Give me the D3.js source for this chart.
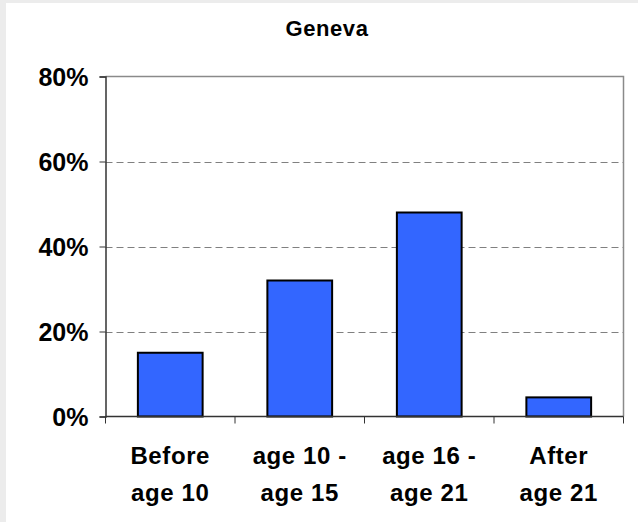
<!DOCTYPE html>
<html>
<head>
<meta charset="utf-8">
<script src="https://cdn.jsdelivr.net/npm/d3@7"></script>
<style>
  html, body { margin: 0; padding: 0; background: #ececec; }
  svg { display: block; }
  text { font-family: "Liberation Sans", Arial, sans-serif; font-weight: bold; fill: #000; }
</style>
</head>
<body>
<script>
const title = "Geneva";
const categories = ["Before\nage 10", "age 10 -\nage 15", "age 16 -\nage 21", "After\nage 21"];
const values = [0.15, 0.32, 0.48, 0.045];
const yTicks = [0, 0.2, 0.4, 0.6, 0.8];

const W = 638, H = 522;
const svg = d3.select("body").append("svg").attr("width", W).attr("height", H);

// white chart area
svg.append("rect").attr("x", 6).attr("y", 3).attr("width", W - 6).attr("height", H - 3).attr("fill", "#ffffff");

const plot = { left: 105.5, right: 623.5, top: 76.5, bottom: 416.5 };

const x = d3.scaleBand().domain(categories).range([plot.left, plot.right]).paddingInner(0.5).paddingOuter(0.25);
const y = d3.scaleLinear().domain([0, 0.8]).range([plot.bottom, plot.top]);

// gridlines
svg.append("g").selectAll("line").data(yTicks.filter(d => d > 0 && d < 0.8)).join("line")
  .attr("x1", plot.left).attr("x2", plot.right)
  .attr("y1", d => Math.round(y(d)) + 0.5).attr("y2", d => Math.round(y(d)) + 0.5)
  .attr("stroke", "#808080").attr("stroke-width", 1).attr("stroke-dasharray", "7,4");

// top and right border
svg.append("path")
  .attr("d", `M${plot.left},${plot.top}H${plot.right}V${plot.bottom}`)
  .attr("fill", "none").attr("stroke", "#8a8a8a").attr("stroke-width", 1.5);

// bars
svg.append("g").selectAll("rect").data(categories).join("rect")
  .attr("x", d => x(d))
  .attr("width", x.bandwidth())
  .attr("y", (d, i) => y(values[i]))
  .attr("height", (d, i) => y(0) - y(values[i]))
  .attr("fill", "#3366ff").attr("stroke", "#000").attr("stroke-width", 2);

// y axis
const yAxis = svg.append("g").attr("transform", `translate(${plot.left},0)`)
  .call(d3.axisLeft(y).tickValues(yTicks).tickFormat(d3.format(".0%")).tickSize(6).tickPadding(11));
yAxis.select(".domain").attr("stroke", "#333").attr("stroke-width", 1.5);
yAxis.selectAll(".tick line").attr("stroke", "#333");
yAxis.selectAll(".tick text").attr("font-size", 25).attr("font-family", "Liberation Sans, Arial, sans-serif").attr("font-weight", "bold").attr("fill", "#000").attr("dy", "0.35em");

// x axis line
svg.append("line").attr("x1", plot.left).attr("x2", plot.right).attr("y1", plot.bottom).attr("y2", plot.bottom)
  .attr("stroke", "#333").attr("stroke-width", 1.5);
// x ticks at category boundaries
const bounds = d3.range(categories.length + 1).map(i => plot.left + i * x.step());
svg.append("g").selectAll("line").data(bounds).join("line")
  .attr("x1", d => d).attr("x2", d => d).attr("y1", plot.bottom).attr("y2", plot.bottom + 7)
  .attr("stroke", "#333").attr("stroke-width", 1);

// category labels
const lab = svg.append("g").selectAll("text").data(categories).join("text")
  .attr("text-anchor", "middle").attr("font-size", 24).attr("letter-spacing", 0.6)
  .attr("x", d => x(d) + x.bandwidth() / 2).attr("y", 464);
lab.selectAll("tspan").data(d => d.split("\n")).join("tspan")
  .attr("x", function() { return d3.select(this.parentNode).attr("x"); })
  .attr("dy", (d, i) => i === 0 ? 0 : 37)
  .text(d => d);

// title
svg.append("text").attr("x", 327).attr("y", 36).attr("text-anchor", "middle").attr("font-size", 22).attr("letter-spacing", 0.6).text(title);
</script>
</body>
</html>
